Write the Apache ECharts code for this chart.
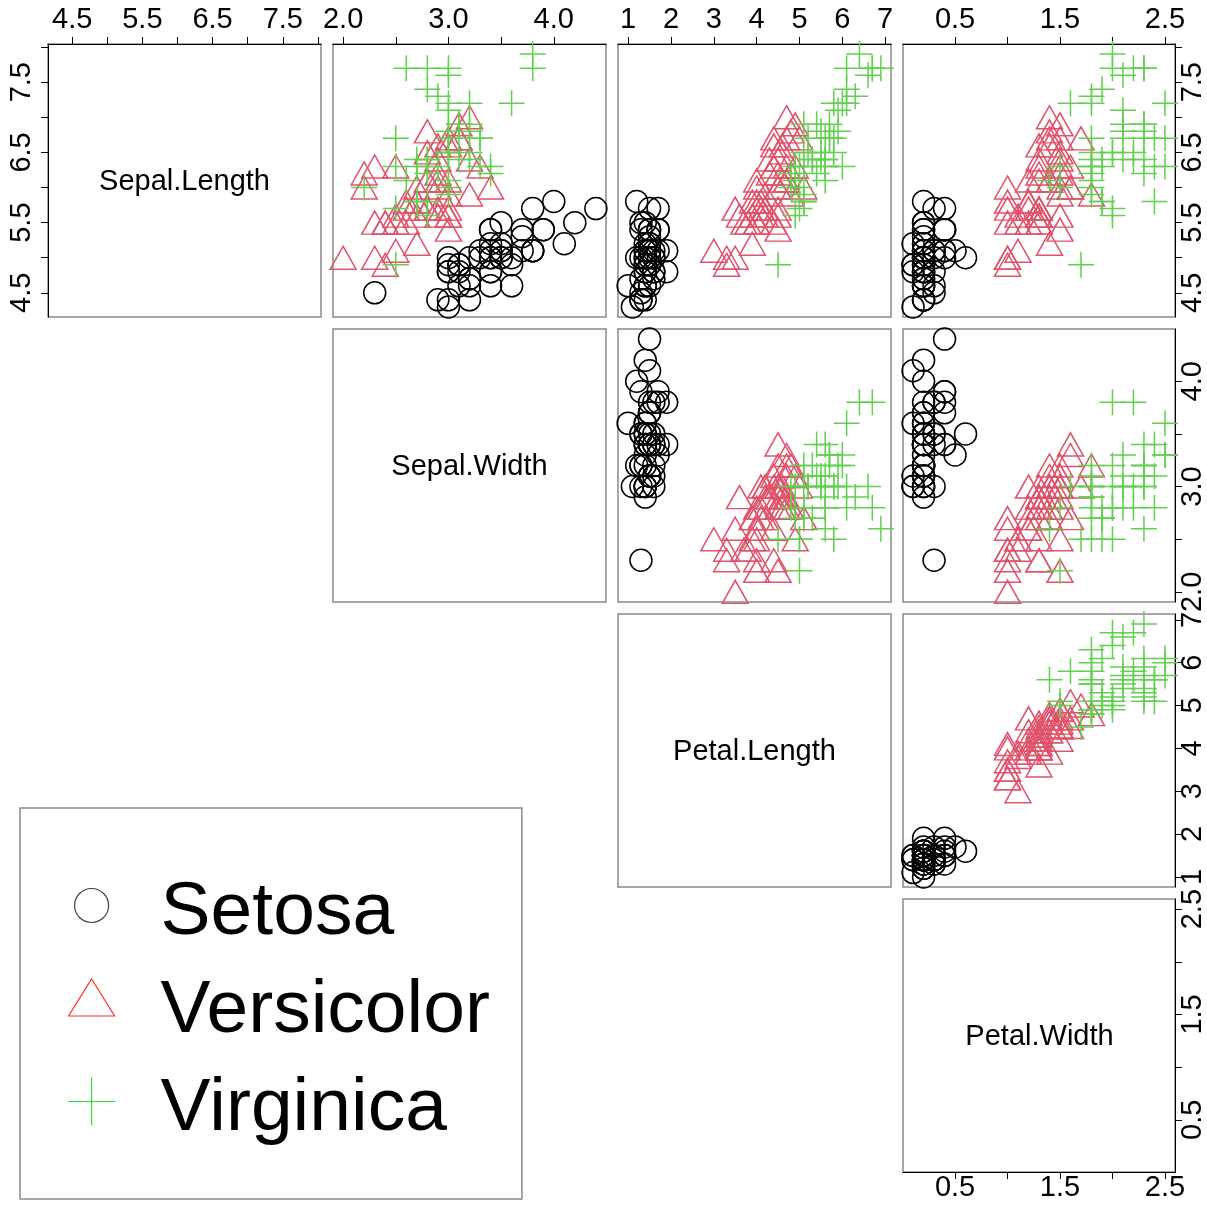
<!DOCTYPE html>
<html><head><meta charset="utf-8">
<script src="https://cdn.jsdelivr.net/npm/echarts@6/dist/echarts.min.js"></script>
<style>html,body{margin:0;padding:0;background:#fff}#c{width:1207px;height:1205px}</style>
</head><body><div id="c"></div>
<script>
const varNames = ['Sepal.Length', 'Sepal.Width', 'Petal.Length', 'Petal.Width'];
const speciesNames = ['Setosa', 'Versicolor', 'Virginica'];

const setosaSepalLength = [5.1,4.9,4.7,4.6,5.0,5.4,4.6,5.0,4.4,4.9,5.4,4.8,4.8,4.3,5.8,5.7,5.4,5.1,5.7,5.1,5.4,5.1,4.6,5.1,4.8,5.0,5.0,5.2,5.2,4.7,4.8,5.4,5.2,5.5,4.9,5.0,5.5,4.9,4.4,5.1,5.0,4.5,4.4,5.0,5.1,4.8,5.1,4.6,5.3,5.0];
const setosaSepalWidth = [3.5,3.0,3.2,3.1,3.6,3.9,3.4,3.4,2.9,3.1,3.7,3.4,3.0,3.0,4.0,4.4,3.9,3.5,3.8,3.8,3.4,3.7,3.6,3.3,3.4,3.0,3.4,3.5,3.4,3.2,3.1,3.4,4.1,4.2,3.1,3.2,3.5,3.6,3.0,3.4,3.5,2.3,3.2,3.5,3.8,3.0,3.8,3.2,3.7,3.3];
const setosaPetalLength = [1.4,1.4,1.3,1.5,1.4,1.7,1.4,1.5,1.4,1.5,1.5,1.6,1.4,1.1,1.2,1.5,1.3,1.4,1.7,1.5,1.7,1.5,1.0,1.7,1.9,1.6,1.6,1.5,1.4,1.6,1.6,1.5,1.5,1.4,1.5,1.2,1.3,1.4,1.3,1.5,1.3,1.3,1.3,1.6,1.9,1.4,1.6,1.4,1.5,1.4];
const setosaPetalWidth = [0.2,0.2,0.2,0.2,0.2,0.4,0.3,0.2,0.2,0.1,0.2,0.2,0.1,0.1,0.2,0.4,0.4,0.3,0.3,0.3,0.2,0.4,0.2,0.5,0.2,0.2,0.4,0.2,0.2,0.2,0.2,0.4,0.1,0.2,0.2,0.2,0.2,0.1,0.2,0.2,0.3,0.3,0.2,0.6,0.4,0.3,0.2,0.2,0.2,0.2];

const versicolorSepalLength = [7.0,6.4,6.9,5.5,6.5,5.7,6.3,4.9,6.6,5.2,5.0,5.9,6.0,6.1,5.6,6.7,5.6,5.8,6.2,5.6,5.9,6.1,6.3,6.1,6.4,6.6,6.8,6.7,6.0,5.7,5.5,5.5,5.8,6.0,5.4,6.0,6.7,6.3,5.6,5.5,5.5,6.1,5.8,5.0,5.6,5.7,5.7,6.2,5.1,5.7];
const versicolorSepalWidth = [3.2,3.2,3.1,2.3,2.8,2.8,3.3,2.4,2.9,2.7,2.0,3.0,2.2,2.9,2.9,3.1,3.0,2.7,2.2,2.5,3.2,2.8,2.5,2.8,2.9,3.0,2.8,3.0,2.9,2.6,2.4,2.4,2.7,2.7,3.0,3.4,3.1,2.3,3.0,2.5,2.6,3.0,2.6,2.3,2.7,3.0,2.9,2.9,2.5,2.8];
const versicolorPetalLength = [4.7,4.5,4.9,4.0,4.6,4.5,4.7,3.3,4.6,3.9,3.5,4.2,4.0,4.7,3.6,4.4,4.5,4.1,4.5,3.9,4.8,4.0,4.9,4.7,4.3,4.4,4.8,5.0,4.5,3.5,3.8,3.7,3.9,5.1,4.5,4.5,4.7,4.4,4.1,4.0,4.4,4.6,4.0,3.3,4.2,4.2,4.2,4.3,3.0,4.1];
const versicolorPetalWidth = [1.4,1.5,1.5,1.3,1.5,1.3,1.6,1.0,1.3,1.4,1.0,1.5,1.0,1.4,1.3,1.4,1.5,1.0,1.5,1.1,1.8,1.3,1.5,1.2,1.3,1.4,1.4,1.7,1.5,1.0,1.1,1.0,1.2,1.6,1.5,1.6,1.5,1.3,1.3,1.3,1.2,1.4,1.2,1.0,1.3,1.2,1.3,1.3,1.1,1.3];

const virginicaSepalLength = [6.3,5.8,7.1,6.3,6.5,7.6,4.9,7.3,6.7,7.2,6.5,6.4,6.8,5.7,5.8,6.4,6.5,7.7,7.7,6.0,6.9,5.6,7.7,6.3,6.7,7.2,6.2,6.1,6.4,7.2,7.4,7.9,6.4,6.3,6.1,7.7,6.3,6.4,6.0,6.9,6.7,6.9,5.8,6.8,6.7,6.7,6.3,6.5,6.2,5.9];
const virginicaSepalWidth = [3.3,2.7,3.0,2.9,3.0,3.0,2.5,2.9,2.5,3.6,3.2,2.7,3.0,2.5,2.8,3.2,3.0,3.8,2.6,2.2,3.2,2.8,2.8,2.7,3.3,3.2,2.8,3.0,2.8,3.0,2.8,3.8,2.8,2.8,2.6,3.0,3.4,3.1,3.0,3.1,3.1,3.1,2.7,3.2,3.3,3.0,2.5,3.0,3.4,3.0];
const virginicaPetalLength = [6.0,5.1,5.9,5.6,5.8,6.6,4.5,6.3,5.8,6.1,5.1,5.3,5.5,5.0,5.1,5.3,5.5,6.7,6.9,5.0,5.7,4.9,6.7,4.9,5.7,6.0,4.8,4.9,5.6,5.8,6.1,6.4,5.6,5.1,5.6,6.1,5.6,5.5,4.8,5.4,5.6,5.1,5.1,5.9,5.7,5.2,5.0,5.2,5.4,5.1];
const virginicaPetalWidth = [2.5,1.9,2.1,1.8,2.2,2.1,1.7,1.8,1.8,2.5,2.0,1.9,2.1,2.0,2.4,2.3,1.8,2.2,2.3,1.5,2.3,2.0,2.0,1.8,2.1,1.8,1.8,1.8,2.1,1.6,1.9,2.0,2.2,1.5,1.4,2.3,2.4,1.8,1.8,2.1,2.4,2.3,1.9,2.3,2.5,2.3,1.9,2.0,2.3,1.8];

const tickValues = [[4.5,5,5.5,6,6.5,7,7.5,8],[2,2.5,3,3.5,4],[1,2,3,4,5,6,7],[0.5,1,1.5,2,2.5]];
const tickLabels = [[4.5,5.5,6.5,7.5],[2,3,4],[1,2,3,4,5,6,7],[0.5,1.5,2.5]];
const labelDecimals = [1, 1, 0, 1];

const speciesData = [
  [setosaSepalLength, setosaSepalWidth, setosaPetalLength, setosaPetalWidth],
  [versicolorSepalLength, versicolorSepalWidth, versicolorPetalLength, versicolorPetalWidth],
  [virginicaSepalLength, virginicaSepalWidth, virginicaPetalLength, virginicaPetalWidth]
];

// layout
const LEFT0 = 48, TOP0 = 44, STEP = 285, SIZE = 273;
const FONT = '"Liberation Sans", Arial, Helvetica, sans-serif';
const pointColors = ['#000000', '#DF536B', '#61D04F'];
const legendColors = ['#444444', '#ff3030', '#33e033'];
const plusPath = 'path://M0,10L20,10M10,0L10,20';
const symbols = ['circle', 'triangle', plusPath];
const symbolSizes = [22, [26, 23], 26];
// legend icons: 48x66 boxes (invisible corner points fix the box), shapes placed to sit level with the text
const legendIcons = [
  'path://M0,0M48,66M7,25.5A17,17,0,1,1,41,25.5A17,17,0,1,1,7,25.5Z',
  'path://M0,0M48,66M24,1L47,38L1,38Z',
  'path://M0,0M48,66M0,25.5L48,25.5M24,1.5L24,49.5'
];

// R-style ranges: data range extended by 4%
const ranges = varNames.map((_, v) => {
  let all = [];
  speciesData.forEach(s => { all = all.concat(s[v]); });
  const mn = Math.min(...all), mx = Math.max(...all), d = (mx - mn) * 0.04;
  return [mn - d, mx + d];
});

const grids = [], xAxes = [], yAxes = [], series = [], graphics = [];

function axisCfg(v, gi, position, show, margin, rotate) {
  return {
    type: 'value', gridIndex: gi, min: ranges[v][0], max: ranges[v][1],
    position: position, show: show,
    axisLine: { show: true, onZero: false, lineStyle: { color: '#000', width: 1 } },
    axisTick: { show: true, inside: false, length: 7, customValues: tickValues[v], lineStyle: { color: '#000', width: 1 } },
    axisLabel: {
      show: true, customValues: tickLabels[v], margin: margin, rotate: rotate || 0,
      formatter: val => Number(val).toFixed(labelDecimals[v]),
      fontSize: 29, color: '#000', fontFamily: FONT, hideOverlap: false
    },
    splitLine: { show: false }
  };
}

for (let r = 0; r < 4; r++) {
  for (let c = r; c < 4; c++) {
    const gi = grids.length;
    const left = LEFT0 + STEP * c, top = TOP0 + STEP * r;
    grids.push({ left: left, top: top, width: SIZE, height: SIZE, show: true,
      borderColor: '#8a8a8a', borderWidth: 1.5, backgroundColor: 'transparent' });
    if (r === 0) xAxes.push(axisCfg(c, gi, 'top', true, 10));
    else if (r === 3 && c === 3) xAxes.push(axisCfg(c, gi, 'bottom', true, 1));
    else xAxes.push(axisCfg(c, gi, 'bottom', false, 1));
    if (c === 0) yAxes.push(axisCfg(r, gi, 'left', true, 12, 90));
    else if (c === 3) yAxes.push(axisCfg(r, gi, 'right', true, 3, 90));
    else yAxes.push(axisCfg(r, gi, 'left', false, 3));

    if (r === c) {
      graphics.push({
        type: 'text', x: left + SIZE / 2, y: top + SIZE / 2 + 1,
        style: { text: varNames[r], fontSize: 29, fontFamily: FONT, fill: '#000',
          textAlign: 'center', textVerticalAlign: 'middle' }
      });
    } else {
      for (let s = 0; s < 3; s++) {
        const xs = speciesData[s][c], ys = speciesData[s][r];
        series.push({
          type: 'scatter', name: speciesNames[s], xAxisIndex: gi, yAxisIndex: gi,
          data: xs.map((x, i) => [x, ys[i]]),
          symbol: symbols[s], symbolSize: symbolSizes[s],
          itemStyle: { color: 'rgba(0,0,0,0)', borderColor: pointColors[s], borderWidth: 1.5, opacity: 1 },
          emphasis: { disabled: true }, silent: true, animation: false
        });
      }
    }
  }
}

const chart = echarts.init(document.getElementById('c'), null, { renderer: 'canvas' });
chart.setOption({
  backgroundColor: '#ffffff',
  animation: false,
  grid: grids, xAxis: xAxes, yAxis: yAxes, series: series,
  graphic: graphics,
  legend: {
    orient: 'vertical', left: 20, top: 808,
    padding: [56, 32, 41, 47],
    borderColor: '#8a8a8a', borderWidth: 1.5, backgroundColor: '#fff',
    itemGap: 0, itemWidth: 48, itemHeight: 66,
    selectedMode: false,
    textStyle: { fontSize: 75, lineHeight: 98, color: '#000', fontFamily: FONT, padding: [0, 0, 0, 40] },
    data: speciesNames.map((n, s) => ({
      name: n, icon: legendIcons[s],
      itemStyle: { color: 'rgba(0,0,0,0)', borderColor: legendColors[s], borderWidth: 1.2 }
    }))
  }
});
</script></body></html>
